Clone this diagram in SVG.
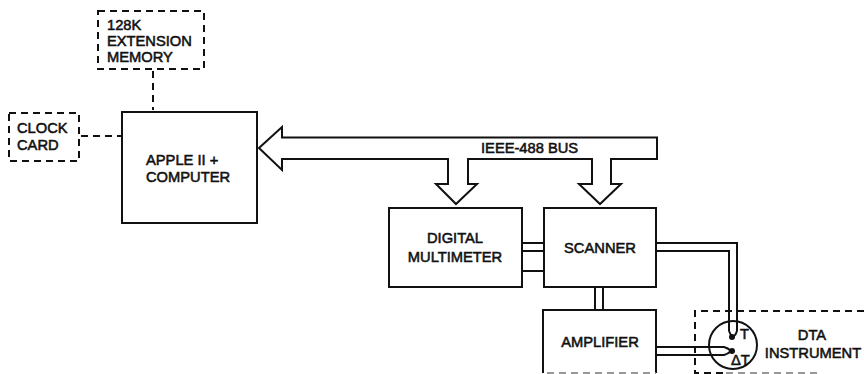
<svg xmlns="http://www.w3.org/2000/svg" width="864" height="374" viewBox="0 0 864 374">
<style>
.b{fill:#fff;stroke:#111;stroke-width:2}
.d{fill:none;stroke:#111;stroke-width:2;stroke-dasharray:7 5}
.f{fill:none;stroke:#777;stroke-width:1.500;stroke-dasharray:7 5}
.l{fill:none;stroke:#111;stroke-width:2}
text{font-family:"Liberation Sans",Arial,sans-serif;font-size:14.7px;font-weight:normal;fill:#111;stroke:#111;stroke-width:.55}
.m{text-anchor:middle}
</style>
<rect width="864" height="374" fill="#fff"/>
<g id="connectors">
<path class="d" d="M153 71V110"/>
<path class="d" d="M81 136H121"/>
<path class="l" d="M259 148L282 127V137.500H657V159H611V184H621L600 204L579 184H592V159H468V184H477L456 204L436 184H448V159H282V170Z"/>
<path class="l" d="M522 243H544M522 251H544M522 271H544"/>
<path class="l" d="M595 287V310M603 287V310"/>
<path class="l" d="M656 243H737V331M656 251H729V331"/>
<path class="l" d="M729 331Q731 336 733 337M737 331Q736 335 733 337"/>
<path class="l" d="M656 347H724Q728 348 731 351M656 355H724Q728 354 731 351"/>
</g>
<g id="memory"><rect class="d" x="98" y="11" width="106" height="58"/><text x="107" y="30">128K</text><text x="107" y="46">EXTENSION</text><text x="107" y="62">MEMORY</text></g>
<g id="clock"><rect class="d" x="9" y="113" width="70" height="48"/><text x="17" y="133">CLOCK</text><text x="17" y="150">CARD</text></g>
<g id="apple"><rect class="b" x="122" y="112" width="135" height="111"/><text x="146" y="165">APPLE II +</text><text x="146" y="182">COMPUTER</text></g>
<g id="bus-label"><text x="481" y="153">IEEE-488 BUS</text></g>
<g id="multimeter"><rect class="b" x="389" y="208" width="133" height="79"/><text class="m" x="455" y="243">DIGITAL</text><text class="m" x="455" y="262">MULTIMETER</text></g>
<g id="scanner"><rect class="b" x="544" y="208" width="112" height="79"/><text class="m" x="600" y="253">SCANNER</text></g>
<g id="amplifier"><path class="b" d="M543 373V310H656V373"/><path class="f" d="M547 373H656"/><text class="m" x="600" y="347">AMPLIFIER</text></g>
<g id="dta">
<path class="d" d="M864 311H695V373H724"/><path class="f" d="M726 373H820"/>
<circle cx="733" cy="345" r="24" fill="none" stroke="#111" stroke-width="2"/>
<circle cx="732" cy="337" r="3" fill="#111"/><circle cx="732" cy="351" r="3" fill="#111"/>
<text x="740" y="339">T</text><text x="731" y="365">ΔT</text>
<text class="m" x="812" y="340">DTA</text><text class="m" x="813" y="358">INSTRUMENT</text>
</g>
</svg>
